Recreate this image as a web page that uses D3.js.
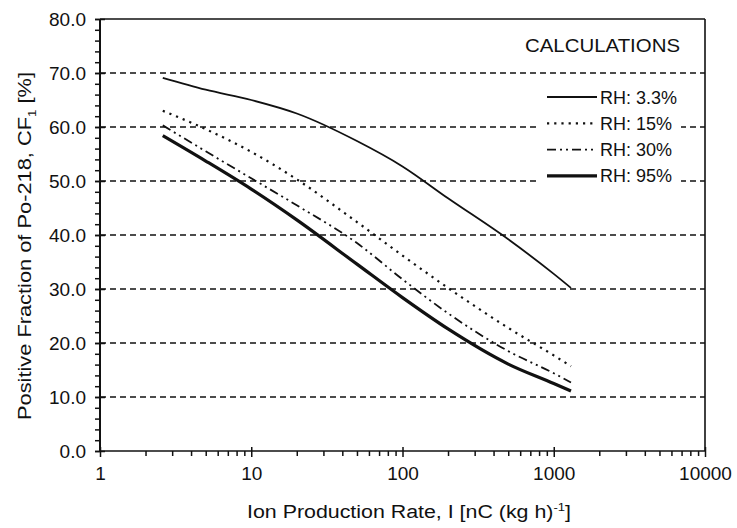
<!DOCTYPE html>
<html>

<head>
    <meta charset="UTF-8">
    <title>Po-218 positive fraction vs ion production rate</title>
    <style>
        body { margin: 0; background: #fff; }
        text { font-family: "Liberation Sans", Arial, sans-serif; fill: #111; }
    </style>
</head>

<body>
    <div id="my_dataviz"></div>

    <script src="https://d3js.org/d3.v7.min.js"></script>
    <script>
        // Ion production rate I [nC (kg h)^-1] where the curves were read
        var ionRate = [2.6, 5, 10, 20, 50, 100, 200, 500, 1000, 1300];

        // CF1 [%] for each relative humidity
        var rh33 = [69.1, 66.9, 65.0, 62.5, 57.4, 52.7, 46.8, 39.2, 32.8, 30.2];
        var rh15 = [63.0, 59.6, 55.4, 50.3, 42.4, 36.2, 30.2, 22.8, 17.7, 15.7];
        var rh30 = [60.3, 55.5, 50.5, 45.5, 38.5, 31.8, 25.5, 18.5, 14.4, 12.7];
        var rh95 = [58.4, 53.7, 48.5, 42.8, 34.6, 28.4, 22.6, 16.1, 12.5, 11.1];

        var seriesNames = ["RH: 3.3%", "RH: 15%", "RH: 30%", "RH: 95%"];
        var xTicks = [1, 10, 100, 1000, 10000];
        var yTicks = [0, 10, 20, 30, 40, 50, 60, 70, 80];
        var gridValues = [10, 20, 30, 40, 50, 60, 70];

        var series = [
            { name: seriesNames[0], values: rh33, width: 1.8, dash: null },
            { name: seriesNames[1], values: rh15, width: 2.2, dash: "2.2,5" },
            { name: seriesNames[2], values: rh30, width: 1.8, dash: "9,4,2,4,2,4" },
            { name: seriesNames[3], values: rh95, width: 3.2, dash: null }
        ];

        // set the dimensions and margins of the graph
        var margin = { top: 19, right: 32, bottom: 77, left: 100 },
            width = 737 - margin.left - margin.right,
            height = 528 - margin.top - margin.bottom;

        var svg = d3.select("#my_dataviz")
            .append("svg")
            .attr("width", 737)
            .attr("height", 528)
            .append("g")
            .attr("transform", "translate(" + margin.left + "," + margin.top + ")");

        var x = d3.scaleLog().domain([1, 10000]).range([0, width]);
        var y = d3.scaleLinear().domain([0, 80]).range([height, 0]);

        // dashed horizontal grid
        svg.selectAll(".grid")
            .data(gridValues)
            .enter()
            .append("line")
            .attr("x1", 0)
            .attr("x2", width)
            .attr("y1", function (d) { return y(d); })
            .attr("y2", function (d) { return y(d); })
            .attr("stroke", "#111")
            .attr("stroke-width", 1.4)
            .attr("stroke-dasharray", "6,4");

        // frame top + right
        svg.append("line").attr("x1", 0).attr("x2", width).attr("y1", 0).attr("y2", 0)
            .attr("stroke", "#111").attr("stroke-width", 1.6);
        svg.append("line").attr("x1", width).attr("x2", width).attr("y1", 0).attr("y2", height)
            .attr("stroke", "#111").attr("stroke-width", 1.6);

        // Y axis: minor ticks every 2, major crossing ticks every 10
        var yAxis = svg.append("g");
        yAxis.call(d3.axisLeft(y).tickValues(d3.range(0, 81, 2)).tickSize(5).tickFormat(""));
        yAxis.call(g => g.select(".domain").remove());
        yAxis.selectAll("line").attr("stroke", "#111").attr("stroke-width", 1.5);
        svg.append("g")
            .call(d3.axisLeft(y).tickValues(yTicks).tickSizeInner(-5).tickSizeOuter(0).tickFormat(d3.format(".1f")))
            .call(g => g.select(".domain").remove())
            .call(g => g.selectAll("line").attr("x1", -5).attr("stroke", "#111").attr("stroke-width", 1.5))
            .call(g => g.selectAll("text").attr("x", -14).attr("dy", "0.36em")
                .style("font-size", "19px").style("font-family", "Liberation Sans, Arial, sans-serif").attr("fill", "#111"));
        svg.append("line").attr("x1", 0).attr("x2", 0).attr("y1", 0).attr("y2", height)
            .attr("stroke", "#111").attr("stroke-width", 2);

        // X axis: minor ticks 2..9 per decade, major at decades
        var minor = [];
        for (var dec = 1; dec < 10000; dec *= 10) {
            for (var k = 2; k <= 9; k++) minor.push(dec * k);
        }
        svg.append("g")
            .attr("transform", "translate(0," + height + ")")
            .call(d3.axisBottom(x).tickValues(minor).tickSize(5).tickFormat(""))
            .call(g => g.select(".domain").remove())
            .call(g => g.selectAll("line").attr("stroke", "#111").attr("stroke-width", 1.5));
        svg.append("g")
            .attr("transform", "translate(0," + height + ")")
            .call(d3.axisBottom(x).tickValues(xTicks).tickSize(6).tickFormat(d3.format("d")))
            .call(g => g.select(".domain").remove())
            .call(g => g.selectAll("line").attr("y1", -4).attr("stroke", "#111").attr("stroke-width", 1.5))
            .call(g => g.selectAll("text").attr("y", 16)
                .style("font-size", "19px").style("font-family", "Liberation Sans, Arial, sans-serif").attr("fill", "#111"));
        svg.append("line").attr("x1", 0).attr("x2", width).attr("y1", height).attr("y2", height)
            .attr("stroke", "#111").attr("stroke-width", 1.6);

        // curves
        var line = d3.line()
            .x(function (d, i) { return x(ionRate[i]); })
            .y(function (d) { return y(d); })
            .curve(d3.curveMonotoneX);

        svg.selectAll(".curve")
            .data(series)
            .enter()
            .append("path")
            .attr("d", function (s) { return line(s.values); })
            .attr("fill", "none")
            .attr("stroke", "#111")
            .attr("stroke-width", function (s) { return s.width; })
            .attr("stroke-dasharray", function (s) { return s.dash; });

        // legend (white box hides the grid behind it)
        var legend = svg.append("g").attr("transform", "translate(437,66)");
        legend.append("rect")
            .attr("x", 0).attr("y", 0).attr("width", 144).attr("height", 104)
            .attr("fill", "#fff");
        var rows = legend.selectAll(".row")
            .data(series)
            .enter()
            .append("g")
            .attr("transform", function (d, i) { return "translate(0," + (12 + i * 26.3) + ")"; });
        rows.append("line")
            .attr("x1", 10).attr("x2", 60)
            .attr("y1", 0).attr("y2", 0)
            .attr("stroke", "#111")
            .attr("stroke-width", function (s) { return s.width; })
            .attr("stroke-dasharray", function (s) { return s.dash; });
        rows.append("text")
            .attr("x", 63)
            .attr("y", 6.5)
            .style("font-size", "18px")
            .text(function (s) { return s.name; });

        svg.append("text")
            .attr("x", 425)
            .attr("y", 33)
            .attr("textLength", 155)
            .attr("lengthAdjust", "spacingAndGlyphs")
            .style("font-size", "19px")
            .text("CALCULATIONS");

        // axis titles (stretched to the width of the original lettering)
        var xTitle = svg.append("text")
            .attr("x", 147)
            .attr("y", height + 67)
            .attr("textLength", 324)
            .attr("lengthAdjust", "spacingAndGlyphs")
            .style("font-size", "18px");
        xTitle.append("tspan").text("Ion Production Rate, I [nC (kg h)");
        xTitle.append("tspan").attr("dy", -7).style("font-size", "11px").text("-1");
        xTitle.append("tspan").attr("dy", 7).text("]");

        var yTitle = svg.append("text")
            .attr("transform", "translate(-69," + (height / 2 + 11) + ") rotate(-90)")
            .attr("x", -174)
            .attr("textLength", 348)
            .attr("lengthAdjust", "spacingAndGlyphs")
            .style("font-size", "18px");
        yTitle.append("tspan").text("Positive Fraction of Po-218, CF");
        yTitle.append("tspan").attr("dy", 5).style("font-size", "11px").text("1");
        yTitle.append("tspan").attr("dy", -5).text(" [%]");
    </script>
</body>

</html>
